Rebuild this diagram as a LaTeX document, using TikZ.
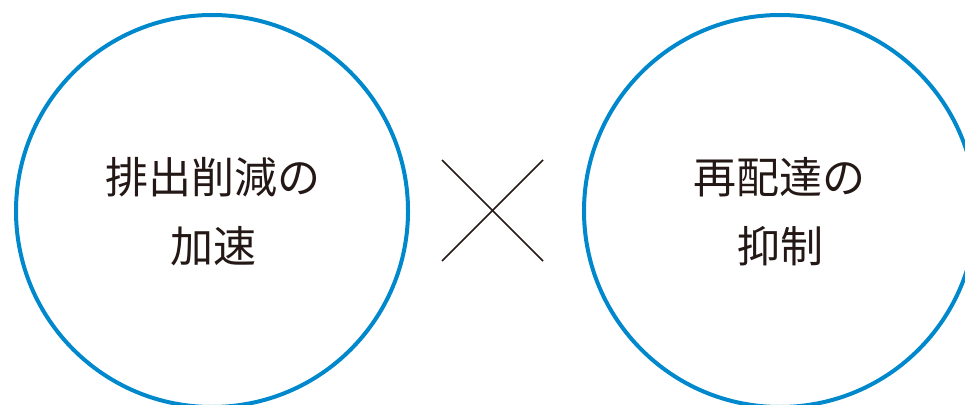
\documentclass[tikz,border=0pt]{standalone}
\usepackage{fontspec}
\newfontfamily\jp{Noto Sans CJK JP}
\definecolor{ringblue}{RGB}{0,136,204}
\definecolor{ink}{RGB}{35,24,21}
\begin{document}
\begin{tikzpicture}[x=1pt,y=-1pt,
  ring/.style={circle,draw=ringblue,line width=4pt,minimum size=392pt,inner sep=0pt},
  label/.style={font=\jp\fontsize{43}{69}\selectfont,text=ink,align=center,inner sep=0pt},
  crossline/.style={draw=ink,line width=1.5pt}]
\useasboundingbox (0,0) rectangle (965,404);
\clip (0,0) rectangle (965,404);
\node[ring] (left) at (212,211) {};
\node[ring] (right) at (780,211) {};
\node[label] (lt1) at (213,177) {排出削減の};
\node[label] (lt2) at (213.5,246) {加速};
\node[label] (rt1) at (779,177) {再配達の};
\node[label] (rt2) at (780,246) {抑制};
\coordinate (c1) at (442,160);
\coordinate (c2) at (543,261);
\coordinate (c3) at (543,160);
\coordinate (c4) at (442,261);
\draw[crossline] (c1) -- (c2);
\draw[crossline] (c3) -- (c4);
\end{tikzpicture}
\end{document}
